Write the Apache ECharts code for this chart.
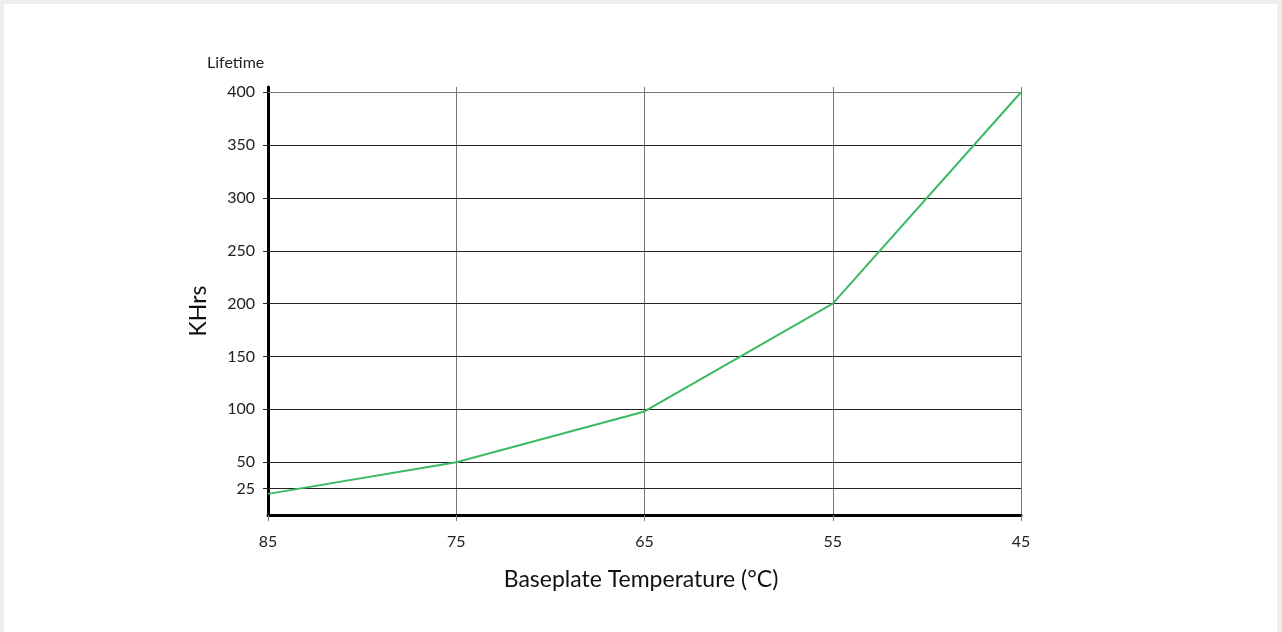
<!DOCTYPE html>
<html>
<head>
<meta charset="utf-8">
<script src="https://cdn.jsdelivr.net/npm/echarts@6/dist/echarts.min.js"></script>
<style>
  html, body { margin: 0; padding: 0; background: #eeeeee; width: 1282px; height: 632px; overflow: hidden; }
  #chart { position: absolute; left: 4px; top: 4px; width: 1273px; height: 628px; background: #ffffff; }
</style>
</head>
<body>
<div id="chart"></div>
<script>
// Data
const temperatures = ['85', '75', '65', '55', '45'];
const lifetimeKHrs = [20, 50, 98, 200, 400];
const yTicks = [25, 50, 100, 150, 200, 250, 300, 350, 400];

const chart = echarts.init(document.getElementById('chart'), null, { renderer: 'canvas' });
const FONT = 'Lato, "Noto Sans", sans-serif';

const option = {
  animation: false,
  backgroundColor: '#ffffff',
  grid: { left: 264, right: 256, top: 83, bottom: 117, containLabel: false },
  xAxis: {
    type: 'category',
    data: temperatures,
    boundaryGap: false,
    axisLine: { show: true, onZero: false, lineStyle: { color: '#000', width: 3 } },
    axisTick: { show: true, alignWithLabel: true, length: 6, lineStyle: { color: '#777', width: 1 } },
    axisLabel: { color: '#222', fontSize: 16, fontFamily: FONT, margin: 19 },
    splitLine: { show: true, lineStyle: { color: '#777', width: 1 } }
  },
  yAxis: {
    type: 'value',
    min: 0,
    max: 405,
    axisLine: { show: true, lineStyle: { color: '#000', width: 3 } },
    axisTick: { show: true, customValues: yTicks, length: 5, lineStyle: { color: '#222', width: 1 } },
    axisLabel: { customValues: yTicks, color: '#222', fontSize: 16, fontFamily: FONT, margin: 13 },
    splitLine: { show: false }
  },
  graphic: [
    { type: 'text', left: 203, top: 51, style: { text: 'Lifetime', fill: '#222', font: '16px ' + FONT } },
    { type: 'text', x: 195, y: 307, rotation: Math.PI / 2, style: { text: 'KHrs', fill: '#111', font: '23px ' + FONT, align: 'center', verticalAlign: 'middle' } },
    { type: 'text', x: 637, y: 576, style: { text: 'Baseplate Temperature (°C)', fill: '#111', font: '23px ' + FONT, align: 'center', verticalAlign: 'middle' } }
  ],
  series: [{
    type: 'line',
    data: lifetimeKHrs,
    symbol: 'none',
    lineStyle: { color: '#3cb963', width: 2 },
    z: 5,
    markLine: {
      silent: true,
      symbol: 'none',
      label: { show: false },
      z: 1,
      data: yTicks.map(v => ({ yAxis: v, lineStyle: { color: v === 400 ? '#777' : '#222', width: 1, type: 'solid' } }))
    }
  }]
};
chart.setOption(option);
</script>
</body>
</html>
